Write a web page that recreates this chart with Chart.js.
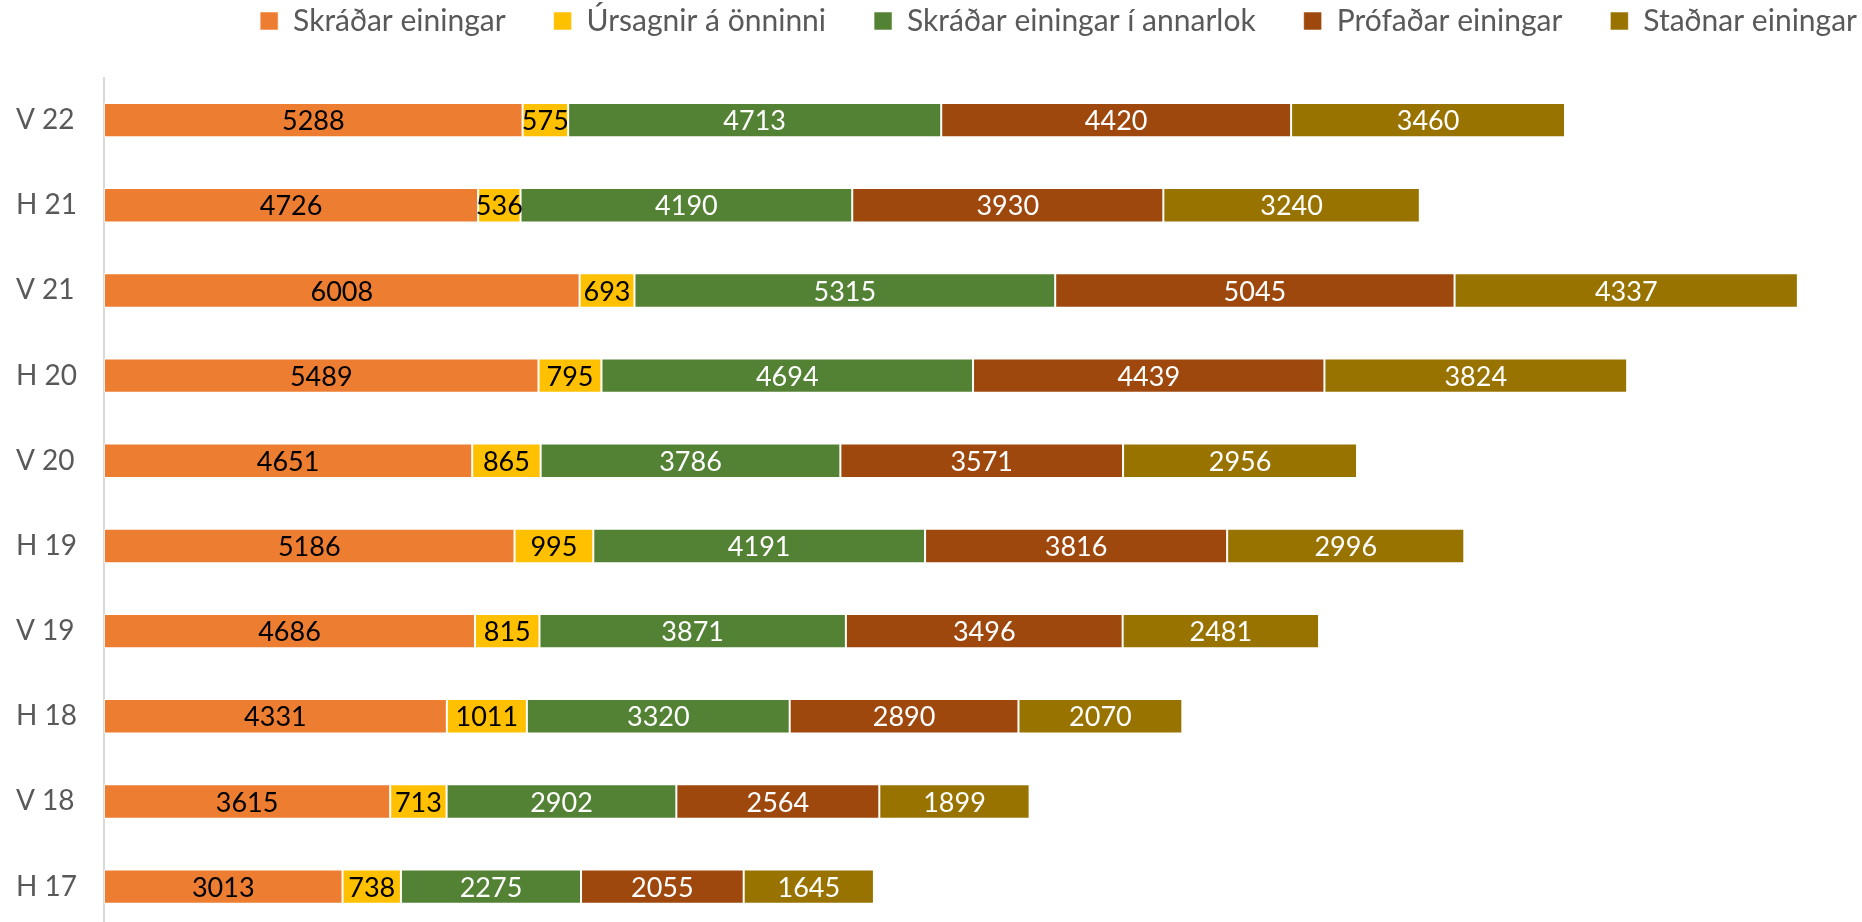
<!DOCTYPE html>
<html>
<head>
<meta charset="utf-8">
<script src="https://cdn.jsdelivr.net/npm/chart.js@4.4.1/dist/chart.umd.min.js"></script>
<style>
  html, body { margin: 0; padding: 0; background: #ffffff; overflow: hidden; }
  #wrap { width: 1916px; height: 946px; }
</style>
</head>
<body>
<div id="wrap"><canvas id="c" width="1916" height="946"></canvas></div>
<script>
const categories = ['V 22', 'H 21', 'V 21', 'H 20', 'V 20', 'H 19', 'V 19', 'H 18', 'V 18', 'H 17'];
const seriesNames = ['Skráðar einingar', 'Úrsagnir á önninni', 'Skráðar einingar í annarlok', 'Prófaðar einingar', 'Staðnar einingar'];
const skradar = [5288, 4726, 6008, 5489, 4651, 5186, 4686, 4331, 3615, 3013];
const ursagnir = [575, 536, 693, 795, 865, 995, 815, 1011, 713, 738];
const annarlok = [4713, 4190, 5315, 4694, 3786, 4191, 3871, 3320, 2902, 2275];
const profadar = [4420, 3930, 5045, 4439, 3571, 3816, 3496, 2890, 2564, 2055];
const stadnar = [3460, 3240, 4337, 3824, 2956, 2996, 2481, 2070, 1899, 1645];

const colors = ['#ED7D31', '#FFC000', '#548235', '#9E480E', '#997300'];
const labelColors = ['#000000', '#000000', '#ffffff', '#ffffff', '#ffffff'];
const seriesData = [skradar, ursagnir, annarlok, profadar, stadnar];

const datasets = seriesData.map((d, i) => ({
  label: seriesNames[i],
  data: d,
  backgroundColor: colors[i],
  borderColor: 'rgba(255,255,255,0.55)',
  borderWidth: 1,
  borderSkipped: false,
  categoryPercentage: 1.0,
  barPercentage: 0.404
}));

const LEGEND_SHIFT_X = -11;
const LEGEND_SHIFT_Y = -42;
const legendTweak = {
  id: 'legendTweak',
  beforeInit(chart) {
    const lg = chart.legend;
    const origFit = lg.fit;
    lg.fit = function () { origFit.call(this); this.height = 77.5; };
    const origDraw = lg._draw;
    lg._draw = function () {
      const ctx = this.ctx;
      ctx.save();
      ctx.translate(LEGEND_SHIFT_X, LEGEND_SHIFT_Y);
      origDraw.call(this);
      ctx.restore();
    };
  }
};

const valueLabels = {
  id: 'valueLabels',
  afterDatasetsDraw(chart) {
    const ctx = chart.ctx;
    ctx.save();
    ctx.font = '27px Lato';
    ctx.textAlign = 'center';
    ctx.textBaseline = 'middle';
    chart.data.datasets.forEach((ds, di) => {
      const meta = chart.getDatasetMeta(di);
      meta.data.forEach((bar, i) => {
        const cx = (bar.x + bar.base) / 2;
        ctx.fillStyle = labelColors[di];
        ctx.fillText(String(ds.data[i]), cx, bar.y + 1.5);
      });
    });
    ctx.restore();
  }
};

new Chart(document.getElementById('c'), {
  type: 'bar',
  data: { labels: categories, datasets },
  options: {
    indexAxis: 'y',
    responsive: false,
    animation: false,
    devicePixelRatio: 1,
    layout: { padding: { left: 16, right: 0, top: 0, bottom: 0 } },
    scales: {
      x: {
        stacked: true,
        display: false,
        min: 0,
        max: 22890
      },
      y: {
        stacked: true,
        grid: { display: false },
        border: { display: true, color: '#d9d9d9', width: 2 },
        ticks: {
          color: '#595959',
          font: { family: 'Lato', size: 28 },
          crossAlign: 'far',
          padding: 0
        },
        afterFit(scale) { scale.width = 88; }
      }
    },
    plugins: {
      legend: {
        position: 'top',
        align: 'end',
        labels: {
          boxWidth: 18,
          boxHeight: 18,
          padding: 48,
          color: '#595959',
          font: { family: 'Lato', size: 30 }
        }
      },
      tooltip: { enabled: false }
    }
  },
  plugins: [legendTweak, valueLabels]
});
</script>
</body>
</html>
